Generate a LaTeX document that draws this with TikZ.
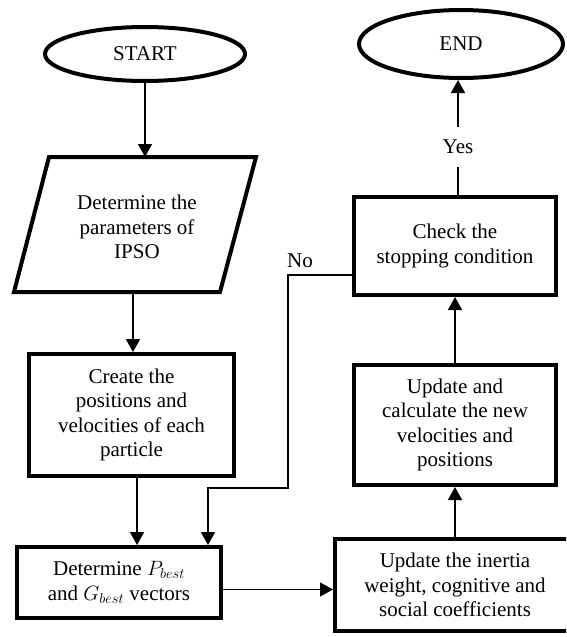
\documentclass[tikz,border=0pt]{standalone}
\usepackage{fontspec}
\setmainfont{Liberation Serif}
\usetikzlibrary{arrows.meta,shapes.geometric,calc}
\begin{document}
\begin{tikzpicture}[x=1pt,y=-1pt,
  txt/.style={font=\fontsize{21}{24.5}\selectfont,align=center},
  box/.style={draw,line width=4pt,rectangle,txt,inner sep=0pt},
  term/.style={draw,line width=4pt,ellipse,txt,inner sep=0pt},
  conn/.style={line width=1.5pt,-{Triangle[length=13pt,width=14pt]}},
  lbl/.style={txt,inner sep=0pt}]
\useasboundingbox (0,0) rectangle (566,637);
\clip (0,0) rectangle (566,637);

% terminals
\node[term,minimum width=200pt,minimum height=54pt] (start) at (145,54) {START};
\node[term,minimum width=204pt,minimum height=68pt] (end) at (461,44) {END};

% parallelogram
\draw[line width=4pt,line join=miter] (49,157) -- (256,157) -- (220,292) -- (14,292) -- cycle;
\node[lbl] (param) at (137,227) {Determine the\\parameters of\\IPSO};
\coordinate (paramtop) at (145,157);
\coordinate (parambot) at (133,292);

% boxes
\node[box,minimum width=205pt,minimum height=122pt] (create) at (131.5,415) {Create the\\positions and\\velocities of each\\particle};
\node[box,minimum width=204pt,minimum height=71pt] (det) at (119,582.5) {Determine $P_{best}$\\and $G_{best}$ vectors};
\node[box,minimum width=240pt,minimum height=92pt] (inertia) at (455,585) {Update the inertia\\weight, cognitive and\\social coefficients};
\node[box,minimum width=202pt,minimum height=120pt] (calc) at (455,425) {Update and\\calculate the new\\velocities and\\positions};
\node[box,minimum width=202pt,minimum height=98pt] (check) at (455,246) {Check the\\stopping condition};

% connectors
\draw[conn] (start.south) -- (start.south |- paramtop);
\draw[conn] (parambot) -- (parambot |- create.north);
\coordinate (c1) at ($(create.south)+(5.5,0)$);
\draw[conn] (c1) -- (c1 |- det.north);
\coordinate (dr) at ([yshift=-7pt]det.east);
\draw[conn] (dr) -- (dr -| inertia.west);
\draw[conn] (inertia.north) -- (calc.south);
\draw[conn] (calc.north) -- (check.south);
\coordinate (ce) at ([xshift=3pt]check.north);
\draw[conn] (ce) -- node[pos=0.42,lbl,fill=white,inner ysep=13pt,inner xsep=2pt] (yes) {Yes} (ce |- end.south);
\coordinate (nw) at ([yshift=-29pt]check.west);
\coordinate (k2) at (208,488);
\draw[conn] (nw) -- ++(-64,0) |- (k2) -- (k2 |- det.north);
\node[lbl,anchor=south west] (no) at (287,268) {No};
\end{tikzpicture}
\end{document}
